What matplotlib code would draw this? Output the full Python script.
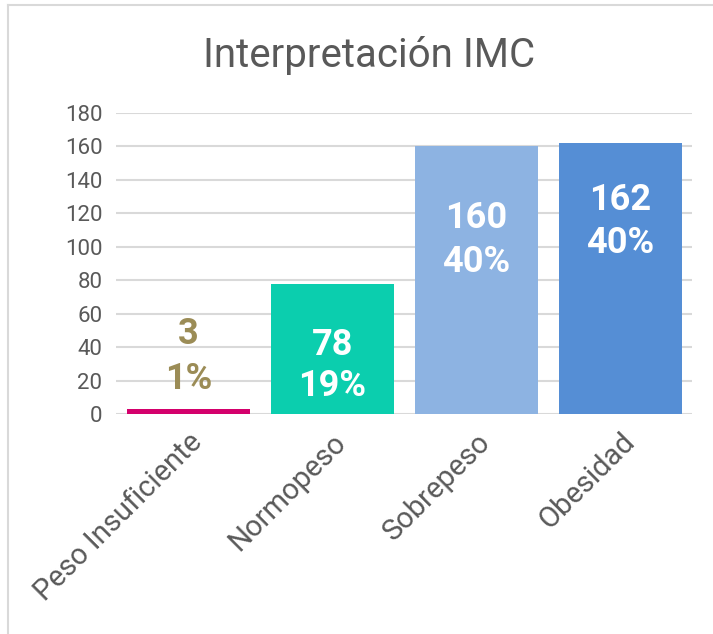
import matplotlib.pyplot as plt
from matplotlib.lines import Line2D

plt.rcParams['font.family'] = ['Roboto', 'DejaVu Sans']

categorias = ['Peso Insuficiente', 'Normopeso', 'Sobrepeso', 'Obesidad']
valores = [3, 78, 160, 162]
porcentajes = ['1%', '19%', '40%', '40%']
colores = ['#d4006c', '#0bceae', '#8db3e2', '#558ed5']
# y of the two label lines for each bar (data units)
pos_valor = [48, 41, 117, 128]
pos_pct = [21, 17, 91, 102]
color_txt = ['#9b8c56', 'white', 'white', 'white']

fig = plt.figure(figsize=(7.13, 6.34), dpi=100)
ax = fig.add_axes([0.163, 0.347, 0.808, 0.475])

x = range(len(categorias))
ax.bar(x, valores, width=0.855, color=colores, zorder=2)

for i in x:
    ax.text(i, pos_valor[i], str(valores[i]), ha='center', va='center',
            fontsize=26, fontweight='bold', color=color_txt[i], zorder=3)
    ax.text(i, pos_pct[i], porcentajes[i], ha='center', va='center',
            fontsize=26, fontweight='bold', color=color_txt[i], zorder=3)

ax.set_xlim(-0.5, 3.5)
ax.set_ylim(0, 180)
ax.set_yticks(range(0, 181, 20))
ax.yaxis.grid(True, color='#d9d9d9', linewidth=1.5, zorder=0)
ax.set_axisbelow(True)
for s in ax.spines.values():
    s.set_visible(False)
ax.tick_params(axis='both', length=0, colors='#595959', labelsize=16)
ax.tick_params(axis='y', pad=10)
ax.set_xticks(list(x))
ax.set_xticklabels(categorias, rotation=45, ha='right', rotation_mode='anchor',
                   fontsize=21, color='#595959')
ax.tick_params(axis='x', pad=10)

fig.text(0.518, 0.913, 'Interpretación IMC', ha='center', va='center',
         fontsize=29, color='#595959')

fig.add_artist(Line2D([8/713, 1], [1-5/634, 1-5/634], color='#d9d9d9', lw=1.5))
fig.add_artist(Line2D([8/713, 8/713], [0, 1-5/634], color='#d9d9d9', lw=1.5))

fig.savefig('out.png', dpi=100)
